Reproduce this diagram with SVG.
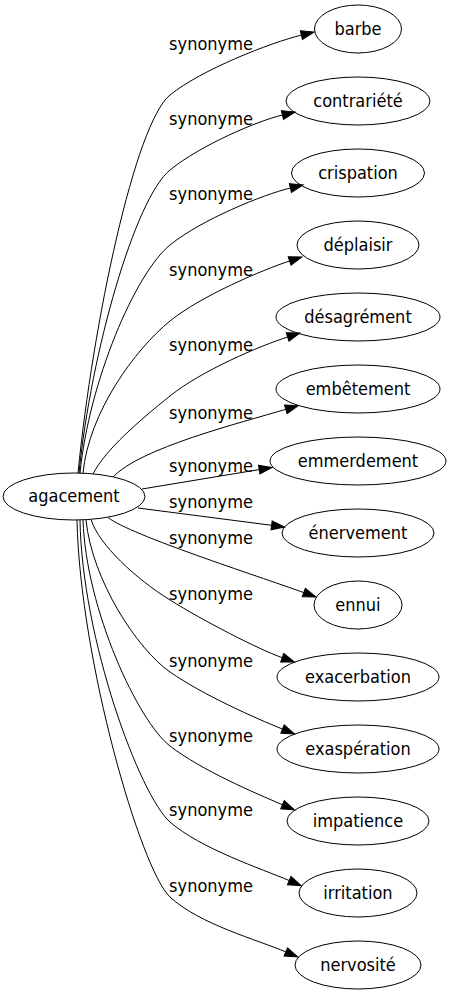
<svg xmlns="http://www.w3.org/2000/svg" width="452" height="995" viewBox="0 0 452 995">
<defs>
<style>
text{font-family:'DejaVu Sans Condensed','DejaVu Sans',sans-serif;font-stretch:condensed;font-size:18px;fill:#000;text-anchor:middle}
ellipse{fill:none;stroke:#000;stroke-width:1}
.e path{fill:none;stroke:#000;stroke-width:1;marker-end:url(#arr)}
</style>
<marker id="arr" markerWidth="13" markerHeight="9" refX="0" refY="4.5" orient="auto" markerUnits="userSpaceOnUse" overflow="visible"><path d="M0,0 L13,4.5 L0,9 Z" fill="#000" stroke="#000" stroke-width="1"/></marker>
</defs>
<rect width="452" height="995" fill="#fff"/>
<g id="edges" class="e">
<path d="M78,473 C93,322 135.1,123.4 170,95 C201,69.8 270.3,42.7 301.4,35.1"/>
<path d="M79,473 C91,352 135.1,198.4 170,170 C201,144.8 258.1,120.8 282.4,115"/>
<path d="M80,473 C89,382 135.1,273.4 170,245 C201,219.8 263.2,194.5 290.4,188"/>
<path d="M83,473 C89,412 135.1,349.4 170,321 C201,295.8 263,269.7 289.6,261"/>
<path d="M93,474 C105,450 140,420 170,396 C201,370.8 260.9,345.5 287.6,337"/>
<path d="M113,477 C140,448 240,423 285.8,409.3"/>
<path d="M142,489 L259.2,469.6"/>
<path d="M138,508 L271.6,525.3"/>
<path d="M108,517.5 C130,535 256.8,575.6 303.8,592.6"/>
<path d="M91,519.5 C99,545 136,578.8 170,600 C204,621.2 258,649 282.2,657.7"/>
<path d="M86,520 C92,580 137.2,649.2 170,672 C202.8,694.8 255,718 282.5,729.1"/>
<path d="M83,520 C86,610 138.4,721.6 170,746 C201.6,770.4 255,793 282.5,804.75"/>
<path d="M80,520 C82,640 140,795.6 170,822 C200,848.4 262,869 289.2,880.55"/>
<path d="M77,520 C80,660 140.8,869.8 170,897 C199.2,924.2 258,940 285.8,951.9"/>
</g>
<g id="edge-labels">
<text x="211" y="50">synonyme</text>
<text x="211" y="125">synonyme</text>
<text x="211" y="200">synonyme</text>
<text x="211" y="276">synonyme</text>
<text x="211" y="351">synonyme</text>
<text x="211" y="419">synonyme</text>
<text x="211" y="472">synonyme</text>
<text x="211" y="508">synonyme</text>
<text x="211" y="544">synonyme</text>
<text x="211" y="600">synonyme</text>
<text x="211" y="667">synonyme</text>
<text x="211" y="742">synonyme</text>
<text x="211" y="816">synonyme</text>
<text x="211" y="892">synonyme</text>
</g>
<g id="agacement"><ellipse cx="74" cy="496.5" rx="71" ry="23.5"/><text x="74" y="502">agacement</text></g>
<g id="barbe"><ellipse cx="358" cy="29" rx="43.5" ry="24"/><text x="358" y="35">barbe</text></g>
<g id="contrariete"><ellipse cx="358" cy="101" rx="72" ry="24"/><text x="358" y="107">contrariété</text></g>
<g id="crispation"><ellipse cx="358" cy="173" rx="66.5" ry="24"/><text x="358" y="179">crispation</text></g>
<g id="deplaisir"><ellipse cx="358" cy="245" rx="61" ry="24"/><text x="358" y="251">déplaisir</text></g>
<g id="desagrement"><ellipse cx="358" cy="317" rx="82" ry="24"/><text x="358" y="323">désagrément</text></g>
<g id="embetement"><ellipse cx="358" cy="389" rx="82" ry="24"/><text x="358" y="395">embêtement</text></g>
<g id="emmerdement"><ellipse cx="358" cy="461" rx="88" ry="24"/><text x="358" y="467">emmerdement</text></g>
<g id="enervement"><ellipse cx="358" cy="533" rx="76" ry="24"/><text x="358" y="539">énervement</text></g>
<g id="ennui"><ellipse cx="358" cy="605" rx="44" ry="24"/><text x="358" y="611">ennui</text></g>
<g id="exacerbation"><ellipse cx="358" cy="677" rx="81" ry="24"/><text x="358" y="683">exacerbation</text></g>
<g id="exasperation"><ellipse cx="358" cy="749" rx="81" ry="24"/><text x="358" y="755">exaspération</text></g>
<g id="impatience"><ellipse cx="358" cy="821" rx="71" ry="24"/><text x="358" y="827">impatience</text></g>
<g id="irritation"><ellipse cx="358" cy="893" rx="59" ry="24"/><text x="358" y="899">irritation</text></g>
<g id="nervosite"><ellipse cx="358" cy="965" rx="63" ry="24"/><text x="358" y="971">nervosité</text></g>
</svg>
